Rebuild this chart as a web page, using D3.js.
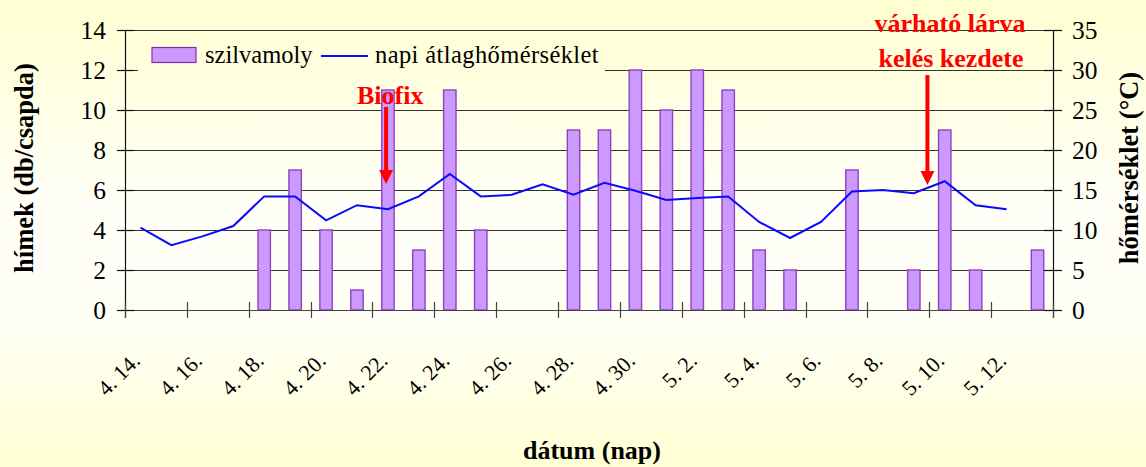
<!DOCTYPE html>
<html><head><meta charset="utf-8">
<script src="https://cdn.jsdelivr.net/npm/d3@7"></script>
<style>html,body{margin:0;padding:0;background:#fffff0;}svg{display:block;}
text{font-family:"Liberation Serif","Tinos","Times New Roman","DejaVu Serif",serif;}</style>
</head><body>
<svg id="c" width="1146" height="467"></svg>
<script>
const categories = ["4. 14.","4. 15.","4. 16.","4. 17.","4. 18.","4. 19.","4. 20.","4. 21.","4. 22.","4. 23.","4. 24.","4. 25.","4. 26.","4. 27.","4. 28.","4. 29.","4. 30.","5. 1.","5. 2.","5. 3.","5. 4.","5. 5.","5. 6.","5. 7.","5. 8.","5. 9.","5. 10.","5. 11.","5. 12.","5. 13."];
const himek = [0,0,0,0,4,7,4,1,11,3,11,4,0,0,9,9,12,10,12,11,3,2,0,7,0,2,9,2,0,3];
const homerseklet = [10.3,8.1,9.2,10.5,14.2,14.2,11.2,13.1,12.6,14.2,17.0,14.2,14.4,15.7,14.4,15.9,14.9,13.75,14.0,14.2,11.0,9.0,11.0,14.8,15.0,14.6,16.1,13.1,12.6,null];
const tickLabels = categories.filter((d,i)=>i%2===0);
const leftTicks = [0,2,4,6,8,10,12,14];
const rightTicks = [0,5,10,15,20,25,30,35];
const seriesNames = ["szilvamoly","napi átlaghőmérséklet"];

const svg = d3.select("#c");
const L=125, R=1053, T=30, B=310;

const defs = svg.append("defs");
const g = defs.append("linearGradient").attr("id","bg").attr("gradientUnits","userSpaceOnUse")
  .attr("x1",0).attr("y1",0).attr("x2",0).attr("y2",467);
g.append("stop").attr("offset","0").attr("stop-color","#ffffd2");
g.append("stop").attr("offset","0.45").attr("stop-color","#fffff8");
g.append("stop").attr("offset","0.68").attr("stop-color","#fffff6");
g.append("stop").attr("offset","1").attr("stop-color","#ffffd4");
svg.append("rect").attr("width",1146).attr("height",467).attr("fill","url(#bg)");

const x = d3.scaleBand().domain(categories).range([L,R]).padding(0);
const bw = x.bandwidth();
const xc = i => L + (i+0.5)*bw;
const y = d3.scaleLinear().domain([0,14]).range([B,T]);
const y2 = d3.scaleLinear().domain([0,35]).range([B,T]);

// gridlines
svg.append("g").selectAll("line").data(leftTicks.filter(d=>d>0)).join("line")
  .attr("x1",L).attr("x2",R).attr("y1",d=>Math.round(y(d))+0.5).attr("y2",d=>Math.round(y(d))+0.5)
  .attr("stroke","#333").attr("stroke-width",1.1);

// legend box (covers gridline)
svg.append("rect").attr("x",138).attr("y",38).attr("width",467).attr("height",36).attr("fill","url(#bg)");

// bars
svg.append("g").selectAll("rect").data(himek.map((v,i)=>({v,i})).filter(d=>d.v>0)).join("rect")
  .attr("x",d=>x(categories[d.i])+bw/2-6.2).attr("width",12.4)
  .attr("y",d=>y(d.v)).attr("height",d=>y(0)-y(d.v))
  .attr("fill","#cc99ff").attr("stroke","#9040c0").attr("stroke-width",1.4);

// line
const lineGen = d3.line().defined(d=>d!=null).x((d,i)=>x(categories[i])+bw/2).y(d=>y2(d));
svg.append("path").datum(homerseklet).attr("d",lineGen).attr("fill","none")
  .attr("stroke","#0a0aff").attr("stroke-width",2);

// axes
const axisG = svg.append("g").attr("stroke","#111").attr("stroke-width",1.2);
axisG.append("line").attr("x1",L+0.5).attr("x2",L+0.5).attr("y1",T).attr("y2",B+8);
axisG.append("line").attr("x1",R+0.5).attr("x2",R+0.5).attr("y1",T).attr("y2",B+8);
axisG.append("line").attr("x1",L).attr("x2",R+9).attr("y1",B+0.5).attr("y2",B+0.5).attr("stroke","#444");
axisG.selectAll(".lt").data(leftTicks).join("line").attr("class","lt")
  .attr("x1",L-8).attr("x2",L+9).attr("y1",d=>Math.round(y(d))+0.5).attr("y2",d=>Math.round(y(d))+0.5);
axisG.selectAll(".rt").data(rightTicks).join("line").attr("class","rt")
  .attr("x1",R-9).attr("x2",R+9).attr("y1",d=>Math.round(y2(d))+0.5).attr("y2",d=>Math.round(y2(d))+0.5);
const bt = d3.range(0,categories.length+1,2);
axisG.selectAll(".bt").data(bt).join("line").attr("class","bt")
  .attr("x1",d=>Math.round(L+d*bw)+0.5).attr("x2",d=>Math.round(L+d*bw)+0.5).attr("y1",B-8).attr("y2",B+8).attr("stroke","#444");

// tick labels
svg.append("g").selectAll("text").data(leftTicks).join("text")
  .attr("x",106).attr("y",d=>y(d)+8.5).attr("text-anchor","end")
  .attr("font-size",25.5).attr("fill","#000").text(d=>d);
svg.append("g").selectAll("text").data(rightTicks).join("text")
  .attr("x",1072).attr("y",d=>y2(d)+8.5).attr("text-anchor","start")
  .attr("font-size",25.5).attr("fill","#000").text(d=>d);
svg.append("g").selectAll("text").data(tickLabels).join("text")
  .attr("transform",(d,i)=>`translate(${xc(i*2)+1},${362}) rotate(-45)`)
  .attr("text-anchor","end").attr("font-size",22).attr("fill","#000").text(d=>d);

// axis titles
svg.append("text").attr("transform","translate(33,168) rotate(-90)").attr("text-anchor","middle")
  .attr("font-size",26.5).attr("font-weight","bold").attr("fill","#000").text("hímek (db/csapda)");
svg.append("text").attr("transform","translate(1138,168) rotate(-90)").attr("text-anchor","middle")
  .attr("font-size",26.5).attr("font-weight","bold").attr("fill","#000").text("hőmérséklet (°C)");
svg.append("text").attr("x",592).attr("y",459).attr("text-anchor","middle")
  .attr("font-size",26).attr("font-weight","bold").attr("fill","#000").text("dátum (nap)");

// legend
svg.append("rect").attr("x",152).attr("y",47.5).attr("width",44).attr("height",15)
  .attr("fill","#cc99ff").attr("stroke","#8a2ca8").attr("stroke-width",1.2);
svg.append("text").attr("x",205).attr("y",63).attr("font-size",24.5).attr("fill","#000").text(seriesNames[0]);
svg.append("line").attr("x1",321).attr("x2",368).attr("y1",56).attr("y2",56).attr("stroke","#0a0aff").attr("stroke-width",2);
svg.append("text").attr("x",375).attr("y",63).attr("font-size",24.5).attr("letter-spacing",0.4).attr("fill","#000").text(seriesNames[1]);

// annotations
function arrow(xp, y1, y2tip){
  svg.append("line").attr("x1",xp).attr("x2",xp).attr("y1",y1).attr("y2",y2tip-12).attr("stroke","#ff0000").attr("stroke-width",4);
  svg.append("path").attr("d",`M${xp-7},${y2tip-14} L${xp+7},${y2tip-14} L${xp},${y2tip} Z`).attr("fill","#ff0000");
}
arrow(xc(7.94), y(10.15), y(6.3));
svg.append("text").attr("x",357).attr("y",104).attr("font-size",26).attr("font-weight","bold").attr("fill","#ff0000").text("Biofix");
arrow(xc(25.44), y(11.75), y(6.25));
svg.append("text").attr("x",950).attr("y",32).attr("text-anchor","middle").attr("font-size",26).attr("font-weight","bold").attr("fill","#ff0000").text("várható lárva");
svg.append("text").attr("x",951).attr("y",67).attr("text-anchor","middle").attr("font-size",26).attr("font-weight","bold").attr("fill","#ff0000").text("kelés kezdete");
</script>
</body></html>
